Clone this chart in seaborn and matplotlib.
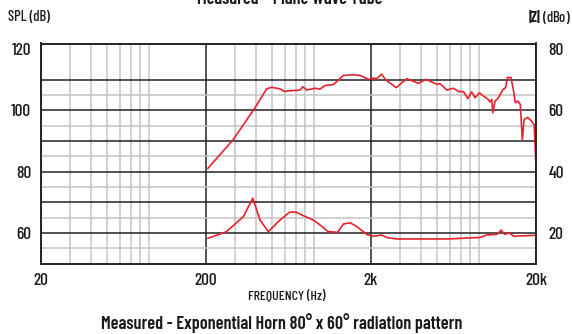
import numpy as np
import pandas as pd
import matplotlib
matplotlib.use("Agg")
import matplotlib.pyplot as plt
from matplotlib.ticker import FixedLocator, NullFormatter
import seaborn as sns

# SPL curve (dB)
spl_freq = [205, 292, 396, 466, 499, 562, 592, 744, 772, 816, 914, 980, 1054, 1186,
            1362, 1568, 1716, 1928, 2068, 2165, 2320, 2460, 2840, 3292, 3878, 4307,
            5000, 5240, 5768, 6292, 6826, 7270, 7720, 8140, 8540, 9080, 9620, 10280,
            10530, 10780, 10940, 11300, 11840, 12540, 13070, 13440, 14100, 14620,
            14970, 15540, 16060, 16530, 16930, 17760, 18860, 19500, 20000]
spl_db = [81.0, 90.4, 100.8, 107.0, 107.5, 107.0, 106.2, 106.6, 107.7, 106.6, 107.2,
          106.9, 108.1, 108.4, 111.4, 111.6, 111.4, 110.1, 110.5, 110.3, 111.8, 109.9,
          107.4, 110.3, 108.8, 110.1, 108.5, 108.7, 106.6, 107.2, 106.1, 106.1, 103.8,
          106.0, 104.1, 105.7, 104.6, 103.5, 102.7, 103.5, 99.2, 103.0, 104.1, 106.6,
          107.4, 110.7, 110.7, 106.3, 102.5, 103.0, 101.9, 90.4, 97.0, 97.7, 96.4,
          95.3, 81.9]

# impedance curve (dBo, right axis)
z_freq = [205, 266, 337, 384, 425, 477, 562, 645, 707, 778, 894, 980, 1100, 1256,
          1362, 1496, 1646, 1884, 2068, 2320, 2490, 2860, 5770, 9160, 10060, 11600,
          12300, 12900, 13750, 14650, 19800]
z_dbo = [18.2, 20.4, 25.3, 31.3, 24.2, 20.4, 24.2, 26.8, 26.7, 25.6, 24.2, 22.6,
         20.4, 20.2, 22.9, 23.3, 22.0, 19.5, 18.9, 19.3, 18.5, 18.0, 18.0, 18.5,
         19.3, 19.5, 20.9, 19.5, 20.0, 18.9, 19.2]

x_ticks = [20, 200, 2000, 20000]
x_labels = ["20", "200", "2k", "20k"]

spl = pd.DataFrame({"freq": spl_freq, "db": spl_db})
imp = pd.DataFrame({"freq": z_freq, "dbo": z_dbo})

sns.set_style("white")
plt.rcParams["font.family"] = ["Barlow Condensed", "DejaVu Sans"]
plt.rcParams["font.weight"] = "medium"
plt.rcParams["mathtext.fontset"] = "custom"
plt.rcParams["mathtext.bf"] = "Barlow Condensed:bold"
plt.rcParams["mathtext.rm"] = "Barlow Condensed"
red = "#e8212b"
ink = "#1a1a1a"

fig = plt.figure(figsize=(5.72, 3.34), dpi=100)
ax = fig.add_axes([41 / 572, 1 - 263.5 / 334, 495 / 572, 220 / 334])
ax2 = ax.twinx()

sns.lineplot(data=spl, x="freq", y="db", ax=ax, color=red, lw=1.2, sort=False)
sns.lineplot(data=imp, x="freq", y="dbo", ax=ax2, color=red, lw=1.2, sort=False)

ax.set_xscale("log")
ax.set_xlim(20, 20000)
ax.set_ylim(50, 121.8)
ax2.set_ylim(10, 81.8)

ax.xaxis.set_major_locator(FixedLocator(x_ticks))
ax.set_xticklabels(x_labels)
minors = [m * d for d in (10, 100, 1000) for m in range(2, 10) if 20 < m * d < 20000]
ax.xaxis.set_minor_locator(FixedLocator(minors))
ax.xaxis.set_minor_formatter(NullFormatter())

ax.yaxis.set_major_locator(FixedLocator([60, 70, 80, 90, 100, 110, 120]))
ax.set_yticklabels(["60", "", "80", "", "100", "", "120"])
ax.yaxis.set_minor_locator(FixedLocator([55, 65, 75, 85, 95, 105]))
ax2.yaxis.set_major_locator(FixedLocator([20, 40, 60, 80]))
ax2.set_yticklabels(["20", "40", "60", "80"])

ax.grid(which="major", color="#222222", lw=1.1)
ax.grid(which="minor", color="#c4c4c4", lw=1.1)
ax.get_ygridlines()[-1].set_visible(False)
ax.set_axisbelow(True)
ax2.grid(False)

for a in (ax, ax2):
    a.tick_params(which="both", length=0, labelsize=12.5, labelcolor=ink)
    a.set_xlabel("")
    a.set_ylabel("")
    for s in a.spines.values():
        s.set_color("#222222")
        s.set_linewidth(1.2)
ax.tick_params(axis="x", pad=7)
ax.tick_params(axis="y", pad=7)
ax2.tick_params(axis="y", pad=9)

fig.text(8 / 572, 1 - 17 / 334, "SPL (dB)", fontsize=10.5, color=ink, va="center", ha="left")
fig.text(571 / 572, 1 - 17 / 334, r"$\mathbf{|Z|}$ (dBo)", fontsize=10.5, color=ink,
         va="center", ha="right")
fig.text(287 / 572, 1 - 297 / 334, "FREQUENCY (Hz)", fontsize=10, color=ink,
         va="center", ha="center")
title = fig.text(282 / 572, 1 - 323 / 334,
                 "Measured - Exponential Horn 80° x 60° radiation pattern",
                 fontweight="semibold", color=ink, va="center", ha="center")
top = fig.text(290 / 572, 1 - 4 / 334, "Measured – Plane Wave Tube",
               fontweight="semibold", color=ink, va="baseline", ha="center")

# scale the two titles to the width they have in the reference
fig.canvas.draw()
r = fig.canvas.get_renderer()
for t, w in ((title, 361), (top, 185)):
    t.set_fontsize(t.get_fontsize() * w / t.get_window_extent(r).width)

fig.savefig("out.png", dpi=100)
